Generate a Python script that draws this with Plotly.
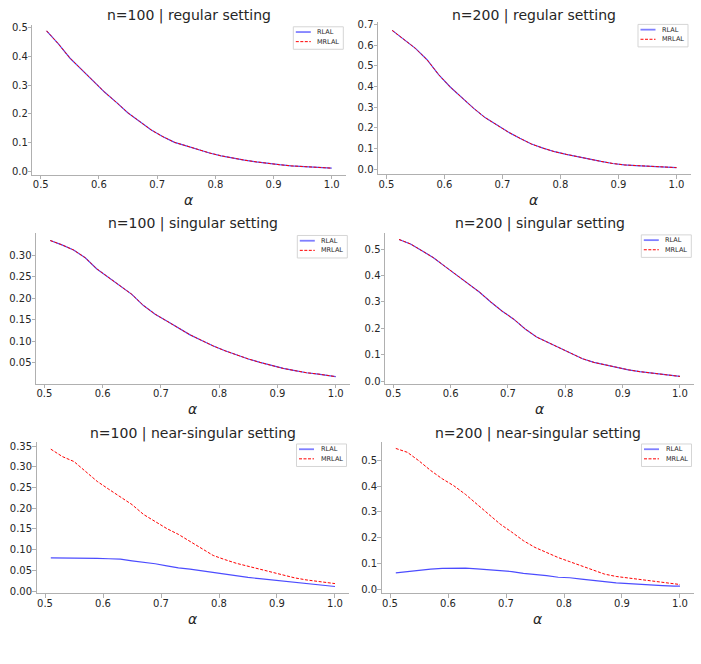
import plotly.graph_objects as go
from plotly.subplots import make_subplots

# ---------------- data ----------------
alpha = [0.51, 0.53, 0.55, 0.57, 0.59, 0.61, 0.63, 0.65, 0.67, 0.69, 0.71, 0.73, 0.75,
         0.77, 0.79, 0.81, 0.83, 0.85, 0.87, 0.89, 0.91, 0.93, 0.95, 0.97, 0.99, 1.00]

reg100_rlal = [0.490, 0.445, 0.395, 0.355, 0.312, 0.275, 0.240, 0.203, 0.173, 0.143, 0.120, 0.100, 0.088,
               0.075, 0.063, 0.053, 0.045, 0.038, 0.032, 0.026, 0.022, 0.018, 0.015, 0.013, 0.011, 0.010]
reg100_mrlal = [0.490, 0.445, 0.395, 0.355, 0.312, 0.275, 0.240, 0.203, 0.173, 0.143, 0.120, 0.100, 0.088,
                0.075, 0.063, 0.053, 0.045, 0.038, 0.032, 0.026, 0.022, 0.018, 0.015, 0.013, 0.011, 0.010]

reg200_rlal = [0.672, 0.630, 0.585, 0.530, 0.458, 0.398, 0.345, 0.296, 0.250, 0.215, 0.180, 0.150, 0.122,
               0.102, 0.085, 0.072, 0.060, 0.048, 0.038, 0.028, 0.021, 0.018, 0.015, 0.012, 0.009, 0.008]
reg200_mrlal = [0.672, 0.630, 0.585, 0.530, 0.458, 0.398, 0.345, 0.296, 0.250, 0.215, 0.180, 0.150, 0.122,
                0.102, 0.085, 0.072, 0.060, 0.048, 0.038, 0.028, 0.021, 0.018, 0.015, 0.012, 0.009, 0.008]

sing100_rlal = [0.334, 0.324, 0.312, 0.294, 0.268, 0.248, 0.228, 0.209, 0.183, 0.163, 0.147, 0.131, 0.115,
                0.102, 0.089, 0.078, 0.068, 0.059, 0.051, 0.044, 0.037, 0.032, 0.027, 0.024, 0.020, 0.018]
sing100_mrlal = [0.334, 0.324, 0.312, 0.294, 0.268, 0.248, 0.228, 0.209, 0.183, 0.163, 0.147, 0.131, 0.115,
                 0.102, 0.089, 0.078, 0.068, 0.059, 0.051, 0.044, 0.037, 0.032, 0.027, 0.024, 0.020, 0.018]

sing200_rlal = [0.537, 0.520, 0.494, 0.468, 0.435, 0.402, 0.370, 0.338, 0.300, 0.265, 0.235, 0.198, 0.167,
                0.146, 0.125, 0.104, 0.085, 0.071, 0.061, 0.051, 0.043, 0.036, 0.031, 0.026, 0.021, 0.018]
sing200_mrlal = [0.537, 0.520, 0.494, 0.468, 0.435, 0.402, 0.370, 0.338, 0.300, 0.265, 0.235, 0.198, 0.167,
                 0.146, 0.125, 0.104, 0.085, 0.071, 0.061, 0.051, 0.043, 0.036, 0.031, 0.026, 0.021, 0.018]

near100_rlal = [0.080, 0.080, 0.079, 0.079, 0.079, 0.078, 0.077, 0.073, 0.070, 0.066, 0.061, 0.056, 0.053,
                0.049, 0.044, 0.041, 0.037, 0.033, 0.030, 0.027, 0.024, 0.021, 0.018, 0.015, 0.012, 0.011]
near100_mrlal = [0.343, 0.325, 0.313, 0.290, 0.265, 0.246, 0.227, 0.209, 0.185, 0.167, 0.151, 0.137, 0.120,
                 0.101, 0.086, 0.076, 0.067, 0.060, 0.053, 0.045, 0.038, 0.032, 0.027, 0.023, 0.019, 0.018]

near200_rlal = [0.065, 0.070, 0.073, 0.079, 0.082, 0.083, 0.083, 0.080, 0.076, 0.073, 0.070, 0.063, 0.059,
                0.054, 0.048, 0.046, 0.041, 0.035, 0.031, 0.026, 0.023, 0.021, 0.019, 0.016, 0.014, 0.014]
near200_mrlal = [0.545, 0.530, 0.497, 0.460, 0.428, 0.401, 0.368, 0.330, 0.290, 0.253, 0.222, 0.189, 0.163,
                 0.142, 0.124, 0.108, 0.091, 0.074, 0.060, 0.051, 0.045, 0.039, 0.033, 0.027, 0.022, 0.020]

titles = ["n=100 | regular setting", "n=200 | regular setting",
          "n=100 | singular setting", "n=200 | singular setting",
          "n=100 | near-singular setting", "n=200 | near-singular setting"]
series_names = ["RLAL", "MRLAL"]
series = [(reg100_rlal, reg100_mrlal), (reg200_rlal, reg200_mrlal),
          (sing100_rlal, sing100_mrlal), (sing200_rlal, sing200_mrlal),
          (near100_rlal, near100_mrlal), (near200_rlal, near200_mrlal)]
x_ticks = [0.5, 0.6, 0.7, 0.8, 0.9, 1.0]
y_ticks = [[0.0, 0.1, 0.2, 0.3, 0.4, 0.5],
           [0.0, 0.1, 0.2, 0.3, 0.4, 0.5, 0.6, 0.7],
           [0.05, 0.10, 0.15, 0.20, 0.25, 0.30],
           [0.0, 0.1, 0.2, 0.3, 0.4, 0.5],
           [0.0, 0.05, 0.10, 0.15, 0.20, 0.25, 0.30, 0.35],
           [0.0, 0.1, 0.2, 0.3, 0.4, 0.5]]
y_fmt = [".1f", ".1f", ".2f", ".1f", ".2f", ".1f"]
y_ranges = [[-0.013, 0.512], [-0.025, 0.712], [0.002, 0.351],
            [-0.009, 0.563], [-0.0055, 0.361], [-0.014, 0.571]]
x_range = [0.4855, 1.0245]

# ---------------- layout (pixel boxes) ----------------
W, H = 701, 664
boxes = [(32.3, 346.0, 21.7, 173.3), (378.0, 690.7, 19.3, 173.0),
         (36.0, 350.0, 232.3, 384.0), (385.0, 694.0, 231.7, 384.0),
         (36.6, 349.2, 442.7, 595.7), (381.6, 694.2, 442.7, 595.7)]
title_y = [12.3, 12.3, 222.7, 222.7, 434.0, 434.0]

FONT = "DejaVu Sans"
TXT = "#262626"
AX = "#b0b0b0"
BLUE = "rgba(0,0,255,0.7)"
BLUE_LEG = "rgba(0,0,255,0.5)"
RED = "red"
DASH = "3px,1.6px"


def px(x):
    return x / W


def py(y):
    return 1 - y / H


fig = make_subplots(rows=3, cols=2)

for i, (rl, mr) in enumerate(series):
    r, c = i // 2 + 1, i % 2 + 1
    fig.add_trace(go.Scatter(x=alpha, y=rl, mode="lines", name=series_names[0],
                             line=dict(color=BLUE, width=1.2), showlegend=False),
                  row=r, col=c)
    fig.add_trace(go.Scatter(x=alpha, y=mr, mode="lines", name=series_names[1],
                             line=dict(color=RED, width=1, dash=DASH), showlegend=False),
                  row=r, col=c)

layout_upd = {}
annotations = []
shapes = []
for i in range(6):
    x0, x1, yt, yb = boxes[i]
    sfx = "" if i == 0 else str(i + 1)
    layout_upd["xaxis" + sfx] = dict(
        domain=[px(x0), px(x1)], range=x_range, tickvals=x_ticks, tickformat=".1f",
        showgrid=False, zeroline=False, showline=True, linecolor=AX, linewidth=1,
        ticks="outside", ticklen=3.5, tickcolor=AX, tickwidth=1, ticklabelstandoff=-3,
        tickfont=dict(family=FONT, size=10, color=TXT))
    layout_upd["yaxis" + sfx] = dict(
        domain=[py(yb), py(yt)], range=y_ranges[i], tickvals=y_ticks[i],
        tickformat=y_fmt[i],
        showgrid=False, zeroline=False, showline=True, linecolor=AX, linewidth=1,
        ticks="outside", ticklen=3.5, tickcolor=AX, tickwidth=1, ticklabelstandoff=-2,
        tickfont=dict(family=FONT, size=10, color=TXT))
    # subplot title
    annotations.append(dict(
        text=titles[i], x=px((x0 + x1) / 2), y=py(title_y[i]),
        xref="paper", yref="paper", xanchor="center", yanchor="middle",
        showarrow=False, font=dict(family=FONT, size=14, color=TXT)))
    # x axis label
    annotations.append(dict(
        text="<i>α</i>", x=px((x0 + x1) / 2), y=py(yb + 26),
        xref="paper", yref="paper", xanchor="center", yanchor="middle",
        showarrow=False, font=dict(family=FONT, size=14, color=TXT)))
    # legend box (upper right)
    lx1 = x1 - 2.7
    lx0 = lx1 - 50
    ly0 = yt + 2.3
    ly1 = ly0 + 22.7
    shapes.append(dict(type="rect", xref="paper", yref="paper",
                       x0=px(lx0), x1=px(lx1), y0=py(ly1), y1=py(ly0),
                       line=dict(color="#d5d5d5", width=1),
                       fillcolor="rgba(255,255,255,0.8)", layer="above"))
    rows_y = [ly0 + 5.3, ly0 + 15.0]
    styles = [dict(color=BLUE_LEG, width=1.8), dict(color=RED, width=1, dash="3px,1.5px")]
    for k in range(2):
        shapes.append(dict(type="line", xref="paper", yref="paper",
                           x0=px(lx0 + 2.5), x1=px(lx0 + 17.5),
                           y0=py(rows_y[k]), y1=py(rows_y[k]),
                           line=styles[k], layer="above"))
        annotations.append(dict(
            text=series_names[k], x=px(lx0 + 22), y=py(rows_y[k]),
            xref="paper", yref="paper", xanchor="left", yanchor="middle",
            showarrow=False, font=dict(family=FONT, size=6.5, color=TXT)))

fig.update_layout(**layout_upd)
fig.update_layout(
    width=W, height=H, margin=dict(l=0, r=0, t=0, b=0),
    paper_bgcolor="white", plot_bgcolor="white",
    showlegend=False, annotations=annotations, shapes=shapes,
    font=dict(family=FONT, color=TXT))

fig.write_html("out.html")
